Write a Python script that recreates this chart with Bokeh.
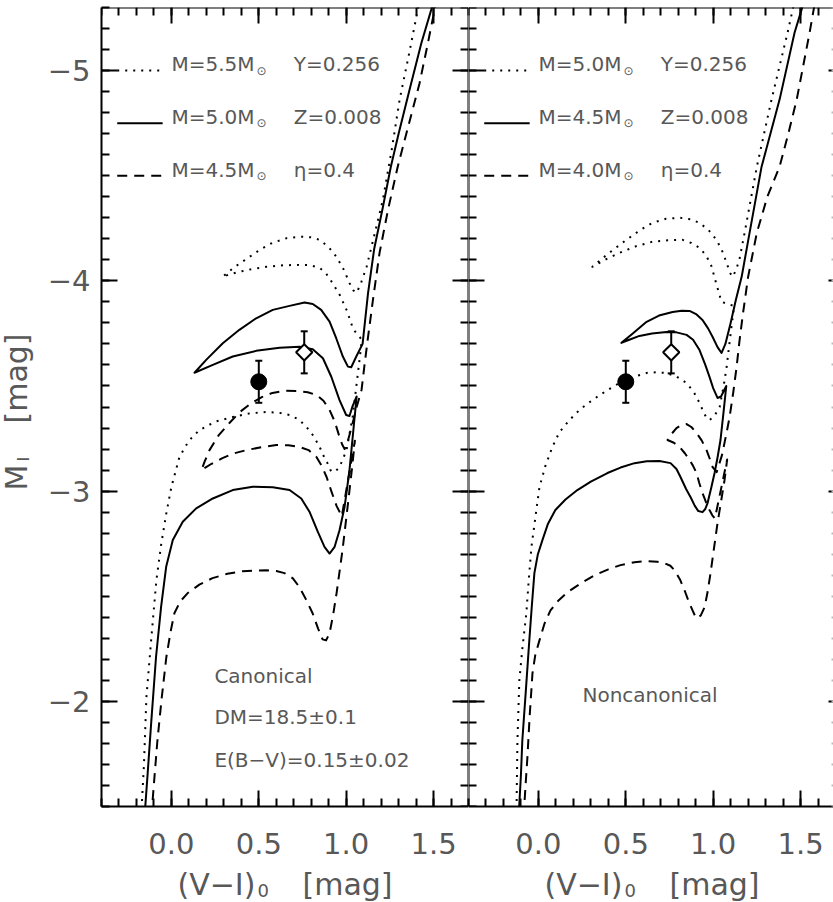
import numpy as np
from bokeh.plotting import figure
from bokeh.layouts import row, column
from bokeh.models import (Range1d, LinearAxis, FixedTicker, PrintfTickFormatter,
                          Label, Whisker, ColumnDataSource, TeeHead)
from bokeh.embed import file_html
from bokeh.resources import INLINE

# ---------------------------------------------------------------------------
# Evolutionary tracks in the (V-I)0 / M_I plane, Y=0.256, Z=0.008, eta=0.4
# ---------------------------------------------------------------------------

# Canonical models (left panel)
can_m55_x = [-0.174, -0.17, -0.157, -0.143, -0.115, -0.086, -0.058, -0.029, 0.0, 0.046, 0.10, 0.16,
             0.25, 0.35, 0.45, 0.544, 0.62, 0.676, 0.73, 0.773, 0.815, 0.848, 0.875,
             0.893, 0.91, 0.922, 0.94, 0.962, 0.985, 1.002, 1.037, 1.07, 1.09, 1.04, 1.02,
             1.002, 0.965, 0.922, 0.885, 0.848, 0.79, 0.733, 0.64, 0.544, 0.46, 0.389, 0.33,
             0.292, 0.36, 0.447, 0.51, 0.578, 0.66, 0.75, 0.80, 0.848, 0.90, 0.945, 0.985,
             1.019, 1.04, 1.06, 1.085, 1.117, 1.165, 1.21, 1.26, 1.306, 1.36, 1.41, 1.437]
can_m55_y = [-1.45, -1.50, -1.70, -2.02, -2.30, -2.576, -2.75, -2.895, -3.02, -3.162, -3.24, -3.29,
             -3.33, -3.352, -3.37, -3.376, -3.372, -3.362, -3.34, -3.305, -3.26, -3.21, -3.16,
             -3.133, -3.10, -3.09, -3.095, -3.114, -3.16, -3.195, -3.352, -3.58, -3.72, -3.77, -3.82,
             -3.862, -3.93, -3.99, -4.035, -4.062, -4.075, -4.076, -4.074, -4.067, -4.056, -4.043, -4.03,
             -4.019, -4.065, -4.114, -4.15, -4.181, -4.203, -4.21, -4.207, -4.195, -4.16, -4.114, -4.055,
             -3.99, -3.955, -3.943, -3.99, -4.067, -4.23, -4.386, -4.62, -4.862, -5.08, -5.29, -5.40]

can_m50_x = [-0.154, -0.149, -0.136, -0.116, -0.088, -0.059, -0.030, 0.008, 0.065, 0.142, 0.237, 0.351,
             0.466, 0.580, 0.676, 0.743, 0.790, 0.838, 0.876, 0.905, 0.934, 0.962, 0.991, 1.019,
             1.04, 1.06, 1.035, 1.019, 1.0, 0.962, 0.915, 0.867, 0.809, 0.733, 0.619, 0.485,
             0.351, 0.237, 0.132, 0.199, 0.294, 0.389, 0.485, 0.580, 0.676, 0.762, 0.809, 0.857,
             0.905, 0.943, 0.981, 1.010, 1.029, 1.058, 1.094, 1.125, 1.16, 1.21, 1.255, 1.30,
             1.363, 1.43, 1.487, 1.52]
can_m50_y = [-1.45, -1.505, -1.656, -1.894, -2.211, -2.449, -2.640, -2.767, -2.854, -2.918, -2.965, -3.005,
             -3.021, -3.018, -3.005, -2.965, -2.902, -2.806, -2.735, -2.703, -2.735, -2.814, -2.925, -3.10,
             -3.28, -3.45, -3.40, -3.357, -3.362, -3.433, -3.544, -3.632, -3.675, -3.687, -3.682, -3.667,
             -3.640, -3.60, -3.563, -3.624, -3.703, -3.767, -3.822, -3.862, -3.881, -3.897, -3.890, -3.862,
             -3.806, -3.727, -3.640, -3.592, -3.589, -3.640, -3.70, -3.94, -4.15, -4.35, -4.54, -4.70,
             -4.91, -5.13, -5.29, -5.40]

can_m45_x = [-0.113, -0.109, -0.096, -0.08, -0.055, -0.029, -0.005, 0.017, 0.05, 0.092, 0.16, 0.235,
             0.32, 0.407, 0.544, 0.60, 0.647, 0.695, 0.733, 0.77, 0.808, 0.84, 0.865, 0.885,
             0.905, 0.925, 0.945, 0.979, 1.008, 1.035, 1.05, 0.975, 0.945, 0.915, 0.888, 0.86,
             0.83, 0.785, 0.733, 0.67, 0.601, 0.52, 0.43, 0.36, 0.292, 0.23, 0.172, 0.19,
             0.218, 0.27, 0.332, 0.39, 0.458, 0.52, 0.578, 0.645, 0.716, 0.78, 0.83, 0.87,
             0.905, 0.935, 0.962, 0.978, 0.991, 1.01, 1.03, 1.06, 1.088, 1.105, 1.123, 1.155,
             1.191, 1.24, 1.295, 1.36, 1.42, 1.465, 1.506, 1.533]
can_m45_y = [-1.45, -1.514, -1.65, -1.814, -2.02, -2.21, -2.33, -2.419, -2.475, -2.514, -2.555, -2.586,
             -2.607, -2.619, -2.624, -2.62, -2.61, -2.585, -2.543, -2.485, -2.419, -2.345, -2.295, -2.29,
             -2.324, -2.41, -2.514, -2.719, -2.924, -3.12, -3.24, -2.88, -2.93, -3.0, -3.067, -3.12,
             -3.162, -3.195, -3.21, -3.218, -3.219, -3.21, -3.195, -3.18, -3.157, -3.13, -3.10, -3.14,
             -3.195, -3.265, -3.324, -3.375, -3.419, -3.448, -3.467, -3.477, -3.476, -3.47, -3.457, -3.43,
             -3.386, -3.33, -3.257, -3.22, -3.20, -3.24, -3.30, -3.40, -3.481, -3.60, -3.719, -3.92,
             -4.133, -4.34, -4.543, -4.75, -4.94, -5.12, -5.29, -5.40]

# Noncanonical models (right panel)
non_m50_x = [-0.127, -0.125, -0.12, -0.109, -0.092, -0.069, -0.055, -0.040, -0.015, 0.006, 0.04, 0.08,
             0.12, 0.178, 0.24, 0.309, 0.39, 0.464, 0.54, 0.619, 0.676, 0.733, 0.79,
             0.848, 0.89, 0.922, 0.951, 0.965, 0.979, 1.005, 1.037, 1.06, 1.077, 1.10,
             1.12, 1.085, 1.048, 1.02, 0.99, 0.96, 0.922, 0.875, 0.825, 0.74, 0.653, 0.56,
             0.464, 0.38, 0.309, 0.40, 0.504, 0.58, 0.653, 0.73, 0.808, 0.87, 0.922, 0.975,
             1.019, 1.05, 1.077, 1.095, 1.111, 1.13, 1.15, 1.18, 1.25, 1.334, 1.426, 1.455,
             1.484]
non_m50_y = [-1.45, -1.50, -1.814, -2.10, -2.25, -2.419, -2.58, -2.733, -2.89, -3.019, -3.12, -3.21,
             -3.28, -3.338, -3.39, -3.433, -3.478, -3.514, -3.542, -3.562, -3.565, -3.562, -3.545,
             -3.514, -3.47, -3.419, -3.365, -3.345, -3.338, -3.355, -3.40, -3.50, -3.59, -3.75,
             -3.88, -3.89, -3.90, -3.98, -4.07, -4.12, -4.157, -4.18, -4.195, -4.193, -4.186, -4.165,
             -4.133, -4.10, -4.067, -4.13, -4.195, -4.24, -4.276, -4.295, -4.30, -4.293, -4.276, -4.24,
             -4.195, -4.145, -4.086, -4.04, -4.019, -4.05, -4.10, -4.229, -4.543, -4.862, -5.181, -5.29,
             -5.40]

non_m45_x = [-0.112, -0.109, -0.10, -0.092, -0.072, -0.052, -0.038, -0.023, -0.003, 0.023, 0.055, 0.097,
             0.155, 0.223, 0.30, 0.395, 0.47, 0.55, 0.62, 0.693, 0.756, 0.79, 0.813, 0.845,
             0.871, 0.895, 0.915, 0.939, 0.955, 0.968, 0.99, 1.008, 1.025, 1.042, 1.06, 1.075,
             1.045, 1.025, 1.0, 0.979, 0.955, 0.922, 0.885, 0.848, 0.79, 0.733, 0.65, 0.578,
             0.52, 0.475, 0.54, 0.619, 0.69, 0.768, 0.82, 0.865, 0.905, 0.939, 0.97, 0.997,
             1.025, 1.048, 1.07, 1.10, 1.13, 1.163, 1.20, 1.277, 1.38, 1.466, 1.506, 1.546]
non_m45_y = [-1.45, -1.514, -1.65, -1.814, -2.05, -2.29, -2.45, -2.61, -2.70, -2.767, -2.845, -2.91,
             -2.96, -3.005, -3.045, -3.086, -3.112, -3.133, -3.142, -3.143, -3.133, -3.105, -3.067, -3.01,
             -2.971, -2.93, -2.905, -2.90, -2.915, -2.943, -3.02, -3.086, -3.16, -3.243, -3.38, -3.50,
             -3.45, -3.443, -3.49, -3.543, -3.60, -3.671, -3.72, -3.743, -3.755, -3.757, -3.75, -3.738,
             -3.72, -3.705, -3.75, -3.805, -3.835, -3.852, -3.858, -3.857, -3.84, -3.814, -3.775, -3.733,
             -3.685, -3.657, -3.70, -3.80, -3.91, -4.019, -4.19, -4.543, -4.862, -5.181, -5.29, -5.40]

non_m40_x = [-0.083, -0.08, -0.072, -0.063, -0.05, -0.034, -0.018, 0.006, 0.035, 0.069, 0.115, 0.166,
             0.24, 0.321, 0.40, 0.47, 0.55, 0.624, 0.68, 0.722, 0.755, 0.779, 0.81, 0.836,
             0.86, 0.882, 0.90, 0.911, 0.93, 0.951, 0.968, 0.985, 1.005, 1.025, 1.045, 1.065,
             1.08, 1.01, 0.995, 0.979, 0.96, 0.939, 0.92, 0.905, 0.885, 0.865, 0.838, 0.808,
             0.775, 0.739, 0.76, 0.79, 0.82, 0.848, 0.875, 0.905, 0.935, 0.962, 0.98, 0.997,
             1.02, 1.05, 1.075, 1.094, 1.115, 1.134, 1.15, 1.168, 1.20, 1.25, 1.31, 1.38,
             1.43, 1.478, 1.552, 1.575, 1.60]
non_m40_y = [-1.45, -1.514, -1.62, -1.733, -1.93, -2.133, -2.22, -2.29, -2.37, -2.433, -2.48, -2.519,
             -2.56, -2.60, -2.628, -2.648, -2.662, -2.667, -2.664, -2.657, -2.645, -2.624, -2.58, -2.529,
             -2.475, -2.433, -2.40, -2.395, -2.41, -2.448, -2.52, -2.61, -2.73, -2.848, -2.95, -3.052,
             -3.15, -2.87, -2.885, -2.91, -2.945, -2.99, -3.04, -3.086, -3.12, -3.148, -3.18, -3.21,
             -3.23, -3.243, -3.27, -3.30, -3.315, -3.319, -3.305, -3.276, -3.24, -3.195, -3.155, -3.114,
             -3.09, -3.17, -3.27, -3.352, -3.47, -3.59, -3.71, -3.829, -4.019, -4.229, -4.40, -4.543,
             -4.70, -4.862, -5.181, -5.29, -5.40]

# Observed star: filled circle and open diamond, with M_I errors
obs_circle_x = [0.50]
obs_circle_y = [-3.52]
obs_circle_err = [0.10]
obs_diamond_x = [0.76]
obs_diamond_y = [-3.66]
obs_diamond_err = [0.10]

# Legend entries (mass labels per panel) and model parameters
can_masses = ["M=5.5M", "M=5.0M", "M=4.5M"]
non_masses = ["M=5.0M", "M=4.5M", "M=4.0M"]
model_params = ["Y=0.256", "Z=0.008", "\u03b7=0.4"]
can_notes = ["Canonical", "DM=18.5\u00b10.1", "E(B\u2212V)=0.15\u00b10.02"]
non_notes = ["Noncanonical"]

# Axis ticks
x_ticks = [0.0, 0.5, 1.0, 1.5]
y_ticks = [-5, -4, -3, -2]
y_tick_labels = ["\u22125", "\u22124", "\u22123", "\u22122"]

# ---------------------------------------------------------------------------
FONT = "DejaVu Sans"
INK = "#585858"
X_START, X_END_L = -0.4, 1.7
FRAME_W_L = 367
PX_PER_X = FRAME_W_L / (X_END_L - X_START)
FRAME_W_R = 365
X_END_R = X_START + FRAME_W_R / PX_PER_X
Y_BOTTOM, Y_TOP = -1.5, -5.3
FRAME_H = 799
TOP_PAD = 7
BOTTOM_PAD = 62
TITLE_W = 40
LEFT_BORDER = 101 - TITLE_W
PAGE_W, PAGE_H = 833, 902
STRIP_TOP = TOP_PAD + FRAME_H + BOTTOM_PAD

x_minor = [round(X_START + 0.1 * i, 1) for i in range(22)]
y_minor = [round(-5.3 + 0.1 * i, 1) for i in range(39)]

DOT = "2 6"
DASH = "10 7"
styles = [DOT, "solid", DASH]


def style_ticks(ax, major=16, minor=8):
    ax.major_tick_in = major
    ax.major_tick_out = 0
    ax.minor_tick_in = minor
    ax.minor_tick_out = 0
    ax.major_tick_line_width = 2
    ax.minor_tick_line_width = 2
    ax.major_tick_line_color = "black"
    ax.minor_tick_line_color = "black"
    ax.axis_line_width = 2
    ax.axis_line_color = "black"


def blank_labels(ax):
    ax.major_label_text_font_size = "0px"
    ax.major_label_text_color = None
    ax.axis_label = None


def text(p, x, y, s, size, angle=0.0):
    # (x, y) is the left end of the text's centre line
    p.add_layout(Label(x=x, y=y, text=s, text_font=FONT, text_font_size=f"{size}px",
                       text_color=INK, text_align="left", text_baseline="middle",
                       angle=angle, angle_units="rad"))


def bare_figure(w, h, xr, yr, top=0, bottom=0):
    p = figure(frame_width=w, frame_height=h, x_range=xr, y_range=yr,
               x_axis_location=None, y_axis_location=None,
               min_border_left=0, min_border_right=0,
               min_border_top=top, min_border_bottom=bottom,
               output_backend="svg", toolbar_location=None)
    p.grid.visible = False
    p.outline_line_color = None
    return p


def make_panel(x_end, frame_w, left_border, first):
    p = figure(frame_width=frame_w, frame_height=FRAME_H,
               x_range=Range1d(X_START, x_end), y_range=Range1d(Y_BOTTOM, Y_TOP),
               x_axis_location=None, y_axis_location=None,
               min_border_left=left_border, min_border_right=0,
               min_border_top=TOP_PAD, min_border_bottom=BOTTOM_PAD,
               output_backend="svg", toolbar_location=None)
    p.grid.visible = False
    p.outline_line_color = None
    p.background_fill_color = "white"
    p.border_fill_color = "white"

    xt = FixedTicker(ticks=x_ticks, minor_ticks=x_minor)
    yt = FixedTicker(ticks=y_ticks, minor_ticks=y_minor)

    below = LinearAxis(ticker=xt, formatter=PrintfTickFormatter(format="%.1f"))
    style_ticks(below)
    below.major_label_text_font = FONT
    below.major_label_text_font_size = "29px"
    below.major_label_text_color = INK
    below.major_label_standoff = 26
    below.axis_label = None
    p.add_layout(below, "below")

    above = LinearAxis(ticker=xt, fixed_location=Y_TOP)
    style_ticks(above)
    blank_labels(above)
    p.add_layout(above, "above")

    if first:
        left = LinearAxis(ticker=yt, major_label_overrides=dict(zip(y_ticks, y_tick_labels)))
        style_ticks(left)
        left.major_label_text_font = FONT
        left.major_label_text_font_size = "29px"
        left.major_label_text_color = INK
        left.major_label_standoff = 11
        left.axis_label = None
    else:
        left = LinearAxis(ticker=yt, fixed_location=X_START)
        style_ticks(left)
        blank_labels(left)
    p.add_layout(left, "left")

    right = LinearAxis(ticker=yt, fixed_location=x_end)
    if first:
        style_ticks(right)
    else:
        style_ticks(right, major=5, minor=2)
        right.axis_line_color = None
        right.minor_tick_line_color = "#bbbbbb"
    blank_labels(right)
    p.add_layout(right, "right")
    return p


def draw_tracks(p, tracks):
    for (xs, ys), dash in zip(tracks, styles):
        p.line(xs, ys, line_color="black", line_width=2, line_dash=dash, line_join="round")


def draw_legend(p, masses):
    rows = [-5.0, -4.75, -4.5]
    for yr, dash, mass, par in zip(rows, styles, masses, model_params):
        p.line([-0.31, -0.05], [yr, yr], line_color="black", line_width=2, line_dash=dash)
        text(p, 0.0, yr - 0.029, mass, 20)
        text(p, 0.487, yr, "\u2299", 12)
        text(p, 0.70, yr - 0.029, par, 20)


def draw_star(p):
    circ = ColumnDataSource(dict(x=obs_circle_x,
                                 lo=[y + e for y, e in zip(obs_circle_y, obs_circle_err)],
                                 hi=[y - e for y, e in zip(obs_circle_y, obs_circle_err)]))
    diam = ColumnDataSource(dict(x=obs_diamond_x,
                                 lo=[y + e for y, e in zip(obs_diamond_y, obs_diamond_err)],
                                 hi=[y - e for y, e in zip(obs_diamond_y, obs_diamond_err)]))
    p.scatter(obs_diamond_x, obs_diamond_y, marker="square", angle=np.pi / 4, size=11.5,
              fill_color="white", line_color="black", line_width=2)
    p.scatter(obs_circle_x, obs_circle_y, marker="circle", size=16,
              fill_color="black", line_color="black")
    for src in (circ, diam):
        p.add_layout(Whisker(source=src, base="x", upper="hi", lower="lo", dimension="height",
                             line_width=2, line_color="black",
                             upper_head=TeeHead(size=7, line_width=2, line_color="black"),
                             lower_head=TeeHead(size=7, line_width=2, line_color="black")))


# ---- rotated y-axis title column: "M" with subscript "I", then "[mag]" ----------
# ranges in screen pixels (y grows downward)
p0 = bare_figure(TITLE_W, FRAME_H, Range1d(0, TITLE_W), Range1d(TOP_PAD + FRAME_H, TOP_PAD),
                 top=TOP_PAD, bottom=BOTTOM_PAD)
text(p0, 16, 490, "M", 30, angle=np.pi / 2)
text(p0, 23, 461, "I", 16, angle=np.pi / 2)
text(p0, 16, 423, "[mag]", 30, angle=np.pi / 2)

# ---- left panel: canonical --------------------------------------------------
p1 = make_panel(X_END_L, FRAME_W_L, LEFT_BORDER, True)
draw_tracks(p1, [(can_m55_x, can_m55_y), (can_m50_x, can_m50_y), (can_m45_x, can_m45_y)])
draw_legend(p1, can_masses)
draw_star(p1)
for yv, note in zip([-2.123, -1.926, -1.723], can_notes):
    text(p1, 0.246, yv, note, 20)

# ---- right panel: noncanonical ----------------------------------------------
p2 = make_panel(X_END_R, FRAME_W_R, 0, False)
draw_tracks(p2, [(non_m50_x, non_m50_y), (non_m45_x, non_m45_y), (non_m40_x, non_m40_y)])
draw_legend(p2, non_masses)
draw_star(p2)
text(p2, 0.252, -2.030, non_notes[0], 20)

# ---- x-axis titles strip under both panels: "(V-I)" with subscript "0", "[mag]" ----
strip = bare_figure(PAGE_W, PAGE_H - STRIP_TOP, Range1d(0, PAGE_W), Range1d(PAGE_H, STRIP_TOP))
for x0 in (177, 177 + FRAME_W_L):
    text(strip, x0, 884, "(V\u2212I)", 30)
    text(strip, x0 + 80, 890, "0", 18)
    text(strip, x0 + 125, 884, "[mag]", 30)

layout = column(row(p0, p1, p2, spacing=0), strip, spacing=0)
open("out.html", "w").write(file_html(layout, INLINE))
